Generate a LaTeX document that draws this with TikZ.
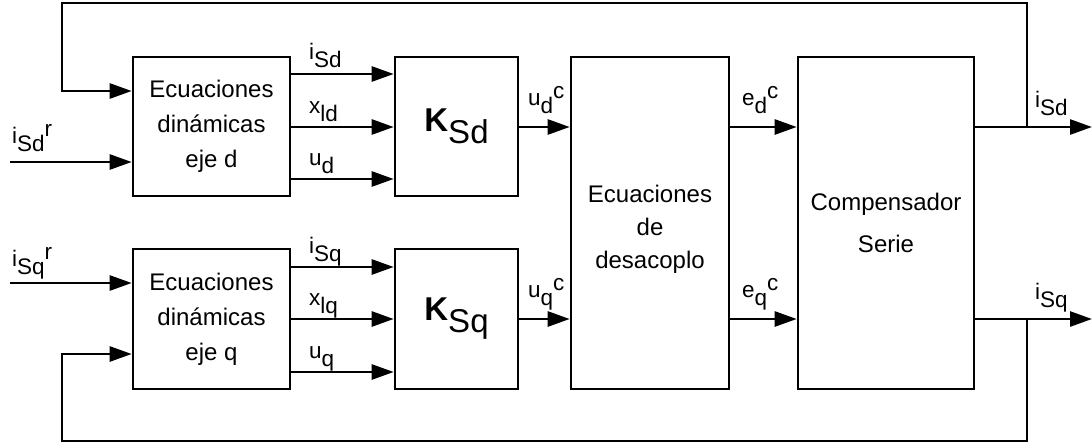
\documentclass[tikz,border=0pt]{standalone}
\usepackage{fontspec}
\setmainfont{Liberation Sans}
\usetikzlibrary{arrows.meta}
\newcommand\lbl[3]{#1\raisebox{-8pt}{#2}\raisebox{7pt}{#3}}
\begin{document}
\begin{tikzpicture}[x=1pt,y=-1pt,
  blk/.style={draw,line width=2.6pt,rectangle,inner sep=0pt,align=center},
  arr/.style={line width=2.6pt,-{Triangle[length=22pt,width=15pt]}},
  txt/.style={font=\fontsize{24}{35}\selectfont},
  lab/.style={font=\fontsize{22.5}{23}\selectfont,inner sep=0pt,anchor=base west}]
\useasboundingbox (0,0) rectangle (1092,447);
% blocks
\node[blk,txt,minimum width=157pt,minimum height=139pt] (edd) at (211.5,126.5) {Ecuaciones\\dinámicas\\eje d};
\node[blk,txt,minimum width=157pt,minimum height=140pt] (edq) at (211.5,319) {Ecuaciones\\dinámicas\\eje q};
\node[blk,minimum width=123pt,minimum height=139pt,font=\fontsize{33}{34}\selectfont] (ksd) at (456.5,126.5) {{\bfseries K}\raisebox{-12pt}{Sd}};
\node[blk,minimum width=123pt,minimum height=140pt,font=\fontsize{33}{34}\selectfont] (ksq) at (456.5,319) {{\bfseries K}\raisebox{-12pt}{Sq}};
\node[blk,minimum width=158pt,minimum height=332pt] (dec) at (650,223) {};
\node[align=center,inner sep=0pt,font=\fontsize{24}{33}\selectfont] (dectxt) at (650,229) {Ecuaciones\\de\\desacoplo};
\node[blk,font=\fontsize{24}{42}\selectfont,minimum width=176pt,minimum height=332pt] (comp) at (886,223) {Compensador\\Serie};
% coordinates
\coordinate (ind) at (10,162);
\coordinate (inq) at (10,283);
\coordinate (jd) at (1027,127);
\coordinate (jq) at (1027,319);
\coordinate (outd) at (1092,127);
\coordinate (outq) at (1092,319);
\coordinate (tr) at (1027,3);
\coordinate (tl) at (62,3);
\coordinate (br) at (1027,441);
\coordinate (bl) at (62,441);
\coordinate (fd) at (62,91);
\coordinate (fq) at (62,354);
% inputs
\draw[arr] (ind) -- (edd.west |- ind);
\draw[arr] (inq) -- (edq.west |- inq);
\draw[arr] (jd) -- (tr) -- (tl) -- (fd) -- (edd.west |- fd);
\draw[arr] (jq) -- (br) -- (bl) -- (fq) -- (edq.west |- fq);
% ED -> K
\draw[arr] (edd.east |- 0,74) -- (ksd.west |- 0,74);
\draw[arr] (edd.east |- 0,127) -- (ksd.west |- 0,127);
\draw[arr] (edd.east |- 0,179) -- (ksd.west |- 0,179);
\draw[arr] (edq.east |- 0,267) -- (ksq.west |- 0,267);
\draw[arr] (edq.east |- 0,319) -- (ksq.west |- 0,319);
\draw[arr] (edq.east |- 0,372) -- (ksq.west |- 0,372);
% K -> dec
\draw[arr] (ksd.east |- 0,127) -- (dec.west |- 0,127);
\draw[arr] (ksq.east |- 0,319) -- (dec.west |- 0,319);
% dec -> comp
\draw[arr] (dec.east |- 0,127) -- (comp.west |- 0,127);
\draw[arr] (dec.east |- 0,319) -- (comp.west |- 0,319);
% outputs
\draw[arr] (comp.east |- outd) -- (outd);
\draw[arr] (comp.east |- outq) -- (outq);
% labels
\node[lab] (lir) at (12,143) {\lbl{i}{Sd}{r}};
\node[lab] (liqr) at (12,266) {\lbl{i}{Sq}{r}};
\node[lab] (l1) at (309,59) {\lbl{i}{Sd}{}};
\node[lab] (l2) at (309,113) {\lbl{x}{ld}{}};
\node[lab] (l3) at (309,165) {\lbl{u}{d}{}};
\node[lab] (l4) at (309,253) {\lbl{i}{Sq}{}};
\node[lab] (l5) at (309,305) {\lbl{x}{lq}{}};
\node[lab] (l6) at (309,358) {\lbl{u}{q}{}};
\node[lab] (l7) at (528,105) {\lbl{u}{d}{c}};
\node[lab] (l8) at (528,297) {\lbl{u}{q}{c}};
\node[lab] (l9) at (742,105) {\lbl{e}{d}{c}};
\node[lab] (l10) at (742,297) {\lbl{e}{q}{c}};
\node[lab] (l11) at (1035,107) {\lbl{i}{Sd}{}};
\node[lab] (l12) at (1035,299) {\lbl{i}{Sq}{}};
\end{tikzpicture}
\end{document}
